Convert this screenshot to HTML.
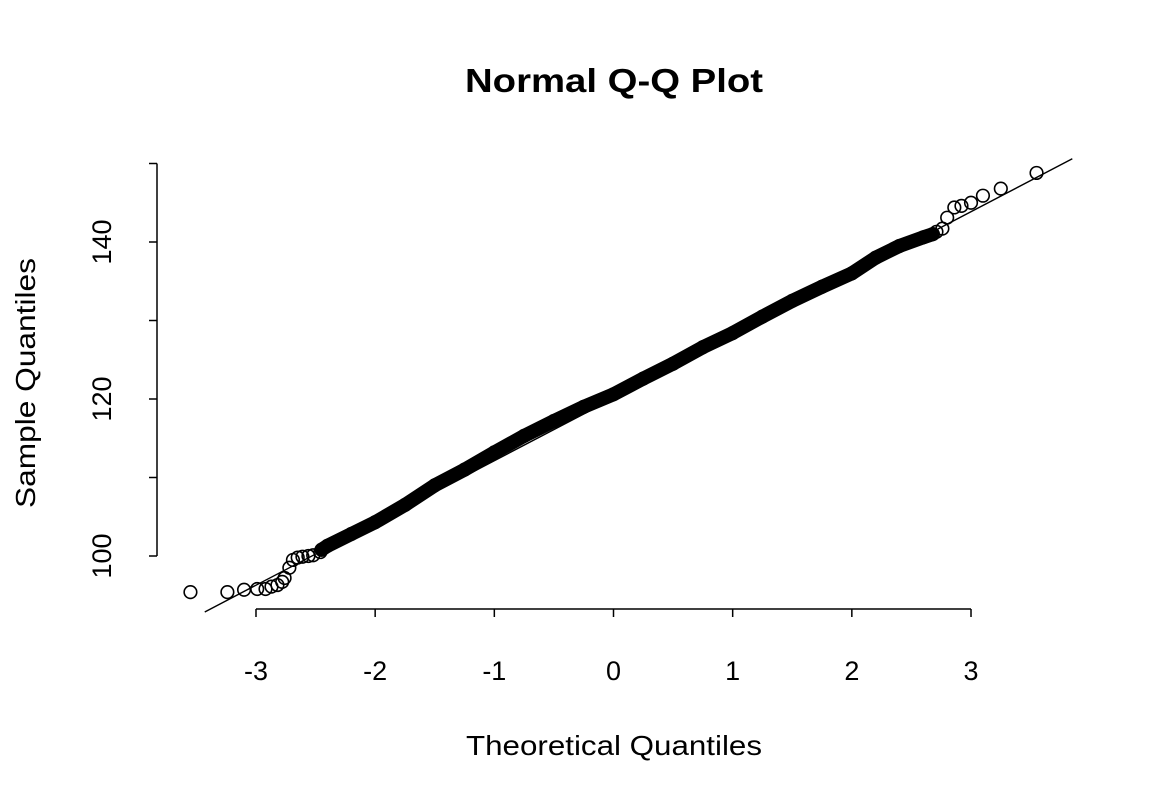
<!DOCTYPE html>
<html><head><meta charset="utf-8"><style>
body{margin:0;background:#fff;}
svg{display:block;font-family:"Liberation Sans",Arial,sans-serif;}
</style></head><body>
<svg id="chart" width="1152" height="806" viewBox="0 0 1152 806">
<text x="614" y="92" text-anchor="middle" font-size="33" font-weight="bold" textLength="298" lengthAdjust="spacingAndGlyphs">Normal Q-Q Plot</text>
<text x="614" y="755" text-anchor="middle" font-size="28" textLength="296" lengthAdjust="spacingAndGlyphs">Theoretical Quantiles</text>
<text transform="translate(35,383) rotate(-90)" text-anchor="middle" font-size="28" textLength="250" lengthAdjust="spacingAndGlyphs">Sample Quantiles</text>
<g id="axes"></g>
<g id="marks"></g>
</svg>
<script>
const xTicks = [-3,-2,-1,0,1,2,3];
const yTicks = [100,110,120,130,140,150];
const yLabels = [100,120,140];
const tailTheo = [-3.55,-3.24,-3.10,-2.99,-2.92,-2.87,-2.82,-2.78,-2.76,-2.72,-2.69,-2.65,-2.61,-2.56,-2.52,-2.46,2.71,2.76,2.80,2.86,2.92,3.00,3.10,3.25,3.55];
const tailSample = [95.4,95.4,95.7,95.8,95.8,96.1,96.3,96.7,97.2,98.5,99.5,99.8,99.9,100.0,100.1,100.5,141.3,141.7,143.1,144.4,144.6,145.0,145.9,146.8,148.8];
const bulkTheo = [-2.45,-2.4,-2.2,-2.0,-1.75,-1.5,-1.25,-1.0,-0.75,-0.5,-0.25,0,0.25,0.5,0.75,1.0,1.25,1.5,1.75,2.0,2.2,2.4,2.6,2.68];
const bulkSample = [100.8,101.3,102.8,104.3,106.5,109.0,111.0,113.2,115.3,117.2,119.0,120.6,122.6,124.5,126.6,128.4,130.5,132.5,134.3,136.0,138.0,139.5,140.6,141.0];
const lineIntercept = 120.07, lineSlope = 7.93;

const NS='http://www.w3.org/2000/svg';
const xs = v => 613.5 + v*119.17;
const ys = v => 399 - (v-120)*7.85;
const axes=document.getElementById('axes'), marks=document.getElementById('marks');
function mk(tag,attrs,parent){const e=document.createElementNS(NS,tag);for(const k in attrs)e.setAttribute(k,attrs[k]);parent.appendChild(e);return e;}

const xa=mk('line',{x1:xs(xTicks[0]),x2:xs(xTicks[xTicks.length-1]),y1:609,y2:609,stroke:'#000','stroke-width':1.5},axes);


xTicks.forEach(t=>{
  const l=mk('line',{x1:xs(t),x2:xs(t),y1:609,y2:617,stroke:'#000','stroke-width':1.5},axes);
  
  
  const tx=mk('text',{x:xs(t),y:680,'text-anchor':'middle','font-size':27},axes);
  tx.textContent=String(t);
  
  
});
const ya=mk('line',{x1:157,x2:157,y1:ys(yTicks[0]),y2:ys(yTicks[yTicks.length-1]),stroke:'#000','stroke-width':1.5},axes);


yTicks.forEach(t=>{
  const l=mk('line',{x1:149,x2:157,y1:ys(t),y2:ys(t),stroke:'#000','stroke-width':1.5},axes);
  
  
});
yLabels.forEach(t=>{
  const tx=mk('text',{transform:`translate(111,${ys(t)}) rotate(-90)`,'text-anchor':'middle','font-size':27},axes);
  tx.textContent=String(t);
  
  
});

const lx0=-3.43, lx1=3.85;
const rl=mk('line',{x1:xs(lx0),y1:ys(lineIntercept+lineSlope*lx0),x2:xs(lx1),y2:ys(lineIntercept+lineSlope*lx1),stroke:'#000','stroke-width':1.4},marks);



const band=mk('polyline',{points:bulkTheo.map((v,i)=>xs(v)+','+ys(bulkSample[i])).join(' '),fill:'none',stroke:'#000','stroke-width':14,'stroke-linejoin':'round','stroke-linecap':'round'},marks);


bulkTheo.forEach((v,i)=>{
  const c=mk('circle',{cx:xs(v),cy:ys(bulkSample[i]),r:6.3,fill:'none',stroke:'#000','stroke-width':1.6},marks);
  
  
});
tailTheo.forEach((v,i)=>{
  const c=mk('circle',{cx:xs(v),cy:ys(tailSample[i]),r:6.3,fill:'none',stroke:'#000','stroke-width':1.6},marks);
  
  
});
</script>
</body></html>
